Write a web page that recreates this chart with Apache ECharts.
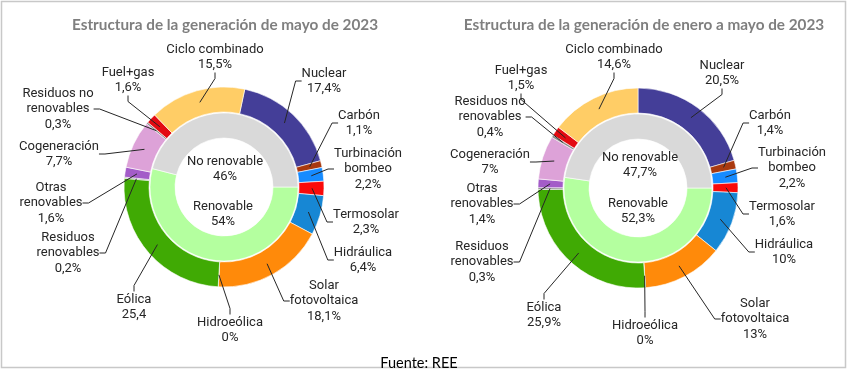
<!DOCTYPE html>
<html>
<head>
<meta charset="utf-8">
<script src="https://cdn.jsdelivr.net/npm/echarts@6/dist/echarts.min.js"></script>
<style>
html,body{margin:0;padding:0;background:#fff;}
#chart{width:848px;height:376px;}
</style>
</head>
<body>
<div id="chart"></div>
<script>
// ---- Data ----
const categories = ['Nuclear','Carbón','Turbinación\nbombeo','Termosolar','Hidráulica','Solar\nfotovoltaica','Hidroeólica','Eólica','Residuos\nrenovables','Otras\nrenovables','Cogeneración','Residuos no\nrenovables','Fuel+gas','Ciclo combinado'];
const mayoValues = [17.4,1.1,2.2,2.3,6.4,18.1,0,25.4,0.2,1.6,7.7,0.3,1.6,15.5];
const mayoValueLabels = ['17,4%','1,1%','2,2%','2,3%','6,4%','18,1%','0%','25,4','0,2%','1,6%','7,7%','0,3%','1,6%','15,5%'];
const eneroMayoValues = [20.5,1.4,2.2,1.6,10,13,0,25.9,0.3,1.4,7,0.4,1.5,14.6];
const eneroMayoValueLabels = ['20,5%','1,4%','2,2%','1,6%','10%','13%','0%','25,9%','0,3%','1,4%','7%','0,4%','1,5%','14,6%'];
const innerCategories = ['Renovable','No renovable'];
const mayoInner = [54,46];
const mayoInnerLabels = ['54%','46%'];
const eneroMayoInner = [52.3,47.7];
const eneroMayoInnerLabels = ['52,3%','47,7%'];
const titles = ['Estructura de la generación de mayo de 2023','Estructura de la generación de enero a mayo de 2023'];
const sourceText = 'Fuente: REE';

// ---- Styles ----
const outerColors = ['#443E98','#A9390F','#168BFF','#FA0A0A','#1787D4','#FF8A0A','#2E7D32','#40AA04','#7F7F7F','#A35CC8','#DDA2D8','#8C8C8C','#E30B12','#FFCD66'];
const innerColors = ['#B4FF9F','#D9D9D9'];

// label centre positions (layout only)
const leftLabelPos = [[324,81],[359,123],[368,169],[366,222],[363,260],[324,301],[230,330],[134,307],[68,253],[51,203],[59,154],[58,109],[128,80],[215,57]];
const rightLabelPos = [[722,73],[770,123],[792,168],[782,214],[784,252],[755,319],[645,333],[544,315],[482,262],[482,204],[490,162],[490,117],[521,78],[614,57]];
const leftInnerPos = [[223,214],[225,169]];
const rightInnerPos = [[638,211],[640,165]];

const chart = echarts.init(document.getElementById('chart'), null, {renderer:'canvas'});
const labelFont = {fontFamily:'Roboto', fontSize:13, lineHeight:15.5, color:'#262626'};

function outerSeries(values, center, startAngle){
  return {
    type:'pie', radius:[75,100], center:center, startAngle:startAngle, clockwise:true,
    avoidLabelOverlap:false, animation:false, silent:true,
    itemStyle:{borderColor:'#ffffff', borderWidth:0.6},
    label:{show:false}, labelLine:{show:false},
    data: values.map((v,i)=>({name:categories[i], value:v, itemStyle:{color:outerColors[i]}}))
  };
}
// transparent thin ring at mid-radius of the outer ring: carries labels and leader lines
function guideSeries(values, labels, center, startAngle, pos){
  return {
    type:'pie', radius:[86,88], center:center, startAngle:startAngle, clockwise:true,
    avoidLabelOverlap:false, animation:false, silent:true, z:5,
    itemStyle:{color:'rgba(0,0,0,0)', borderWidth:0},
    label:Object.assign({show:true, formatter:(p)=>categories[p.dataIndex]+'\n'+labels[p.dataIndex], align:'center'}, labelFont),
    labelLine:{show:true, length:8, length2:6, minTurnAngle:90, lineStyle:{color:'#262626', width:1}},
    labelLayout:(p)=>({x:pos[p.dataIndex][0], y:pos[p.dataIndex][1], align:'center', verticalAlign:'middle'}),
    data: values.map((v,i)=>({name:categories[i], value:v}))
  };
}
function innerSeries(values, labels, center, pos){
  return {
    type:'pie', radius:[49,74], center:center, startAngle:0, clockwise:true,
    avoidLabelOverlap:false, animation:false, silent:true,
    itemStyle:{borderColor:'#ffffff', borderWidth:0.6},
    label:Object.assign({show:true, formatter:(p)=>innerCategories[p.dataIndex]+'\n'+labels[p.dataIndex], align:'center'}, labelFont),
    labelLine:{show:false},
    labelLayout:(p)=>({x:pos[p.dataIndex][0], y:pos[p.dataIndex][1], align:'center', verticalAlign:'middle'}),
    data: values.map((v,i)=>({name:innerCategories[i], value:v, itemStyle:{color:innerColors[i]}}))
  };
}

const titleStyle = {fontFamily:'Lato', fontWeight:'bold', fontSize:15.3, color:'#7F7F7F'};
chart.setOption({
  backgroundColor:'#ffffff',
  title:[
    {text:titles[0], left:220, top:13, textAlign:'center', textStyle:titleStyle},
    {text:titles[1], left:639, top:13, textAlign:'center', textStyle:titleStyle},
    {text:sourceText, left:414, top:351, textAlign:'center', textStyle:{fontFamily:'Lato', fontWeight:'normal', fontSize:14.5, color:'#000000'}}
  ],
  graphic:[{type:'rect', shape:{x:1.5, y:1.5, width:844, height:366}, style:{fill:'none', stroke:'#C8C8C8', lineWidth:1.5}, silent:true}],
  series:[
    innerSeries(mayoInner, mayoInnerLabels, [224,187], leftInnerPos),
    outerSeries(mayoValues, [224,187], 78),
    guideSeries(mayoValues, mayoValueLabels, [224,187], 78, leftLabelPos),
    innerSeries(eneroMayoInner, eneroMayoInnerLabels, [638,188], rightInnerPos),
    outerSeries(eneroMayoValues, [638,188], 90),
    guideSeries(eneroMayoValues, eneroMayoValueLabels, [638,188], 90, rightLabelPos)
  ]
});
</script>
</body>
</html>
